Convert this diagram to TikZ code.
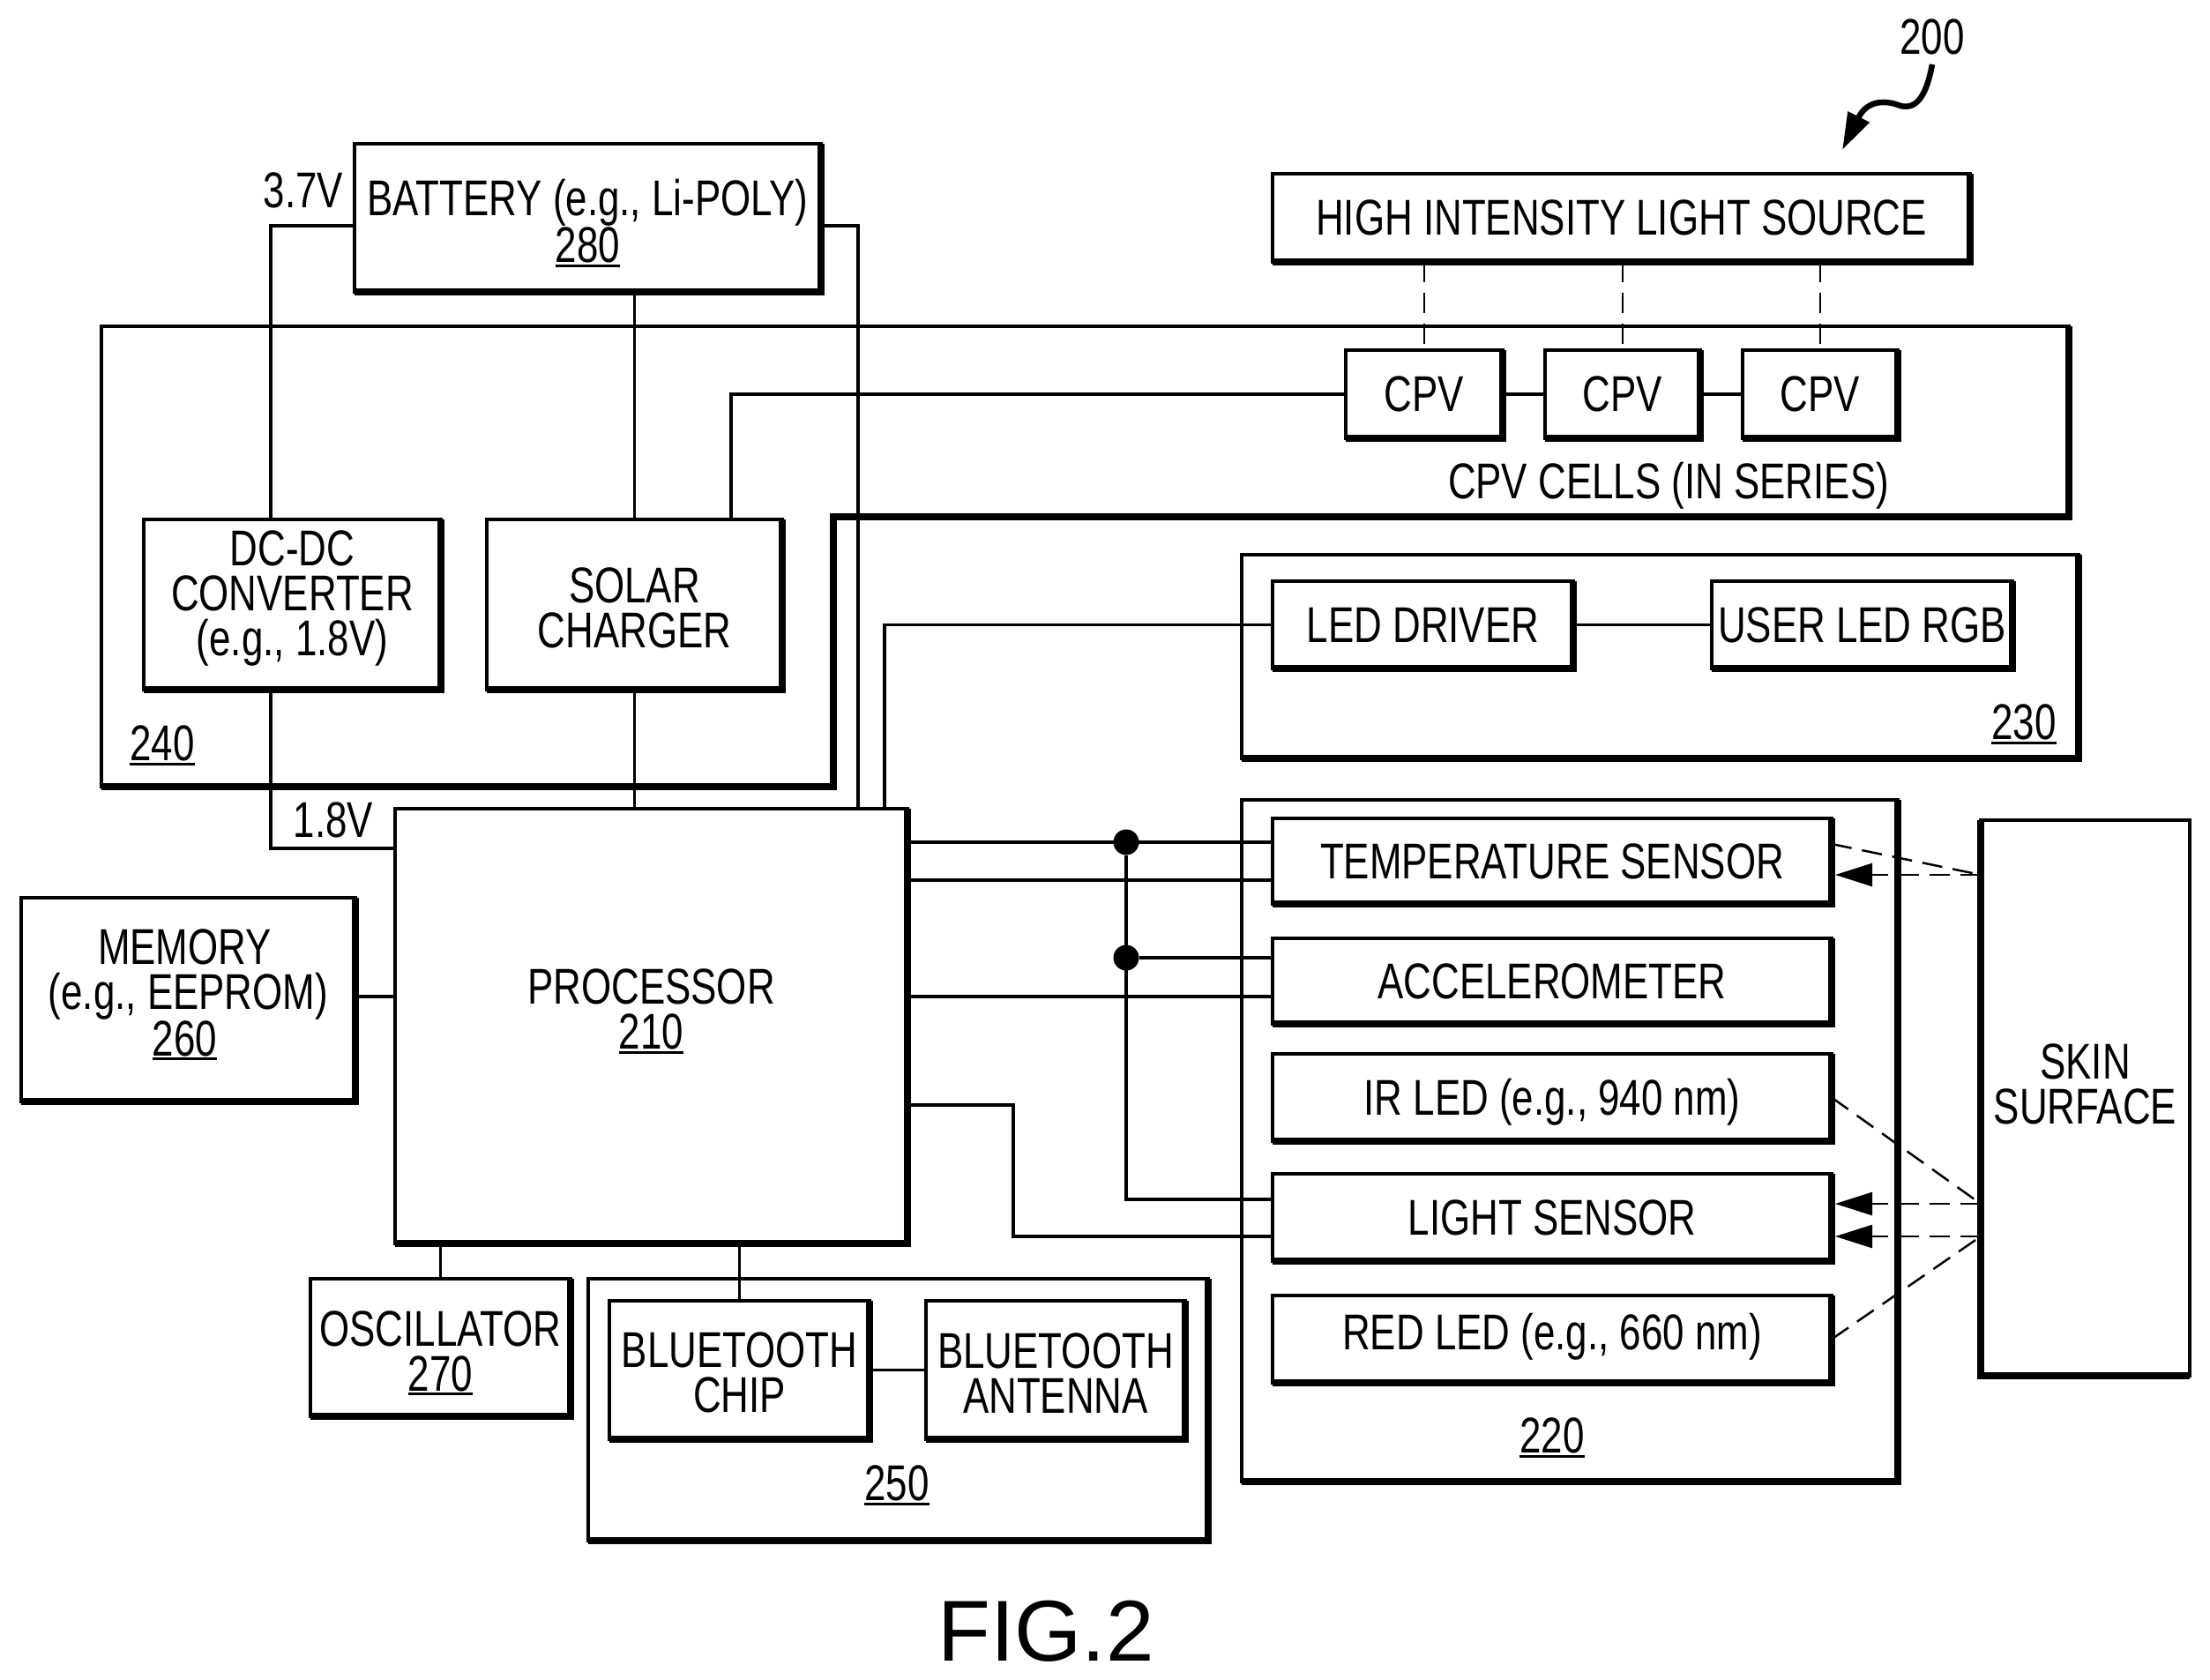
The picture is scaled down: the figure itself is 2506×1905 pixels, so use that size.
\documentclass[tikz,border=0pt]{standalone}
\usepackage{fontspec}
\usetikzlibrary{arrows.meta}
\setmainfont{Liberation Sans}
\newfontfamily\narrowfont[FakeStretch=0.77]{Liberation Sans}
\newcommand{\refnum}[1]{\setbox0\hbox{#1}\rlap{\smash{\rule[-5pt]{\wd0}{3pt}}}#1}
\newcommand{\pushup}[1]{\rule[-#1]{0pt}{#1}}
\newcommand{\pushdown}[1]{\rule{0pt}{#1}}
\newcommand{\padr}{\hspace*{8pt}}
\tikzset{
  lettering/.style={
      inner sep=0pt,
      align=center,
      font=\narrowfont\fontsize{57}{51}\selectfont
  },
  block/.style={
      lettering,
      rectangle,
      draw,
      line width=4pt,
      outer sep=0pt,
      fill=white
  },
  group/.style={block,fill=none},
  boxsize/.style 2 args={minimum width=#1pt,minimum height=#2pt},
  heavy/.style={line width=8pt,line cap=square},
  conn/.style={line width=3.5pt},
  beam/.style={line width=2.5pt,dash pattern=on 23pt off 12pt},
  lit/.style={beam,shorten >=4pt,-{Triangle[length=42pt,width=26pt]}},
  junction/.style={circle,fill,inner sep=0pt,minimum size=29pt}
}

\begin{document}
\begin{tikzpicture}[x=1pt,y=-1pt]
    \useasboundingbox (0,0) rectangle (2506,1905);
    % group outlines
    \node[group,boxsize={703}{297}] (group250) at (1018.5,1598.5) {};
    \node[group,boxsize={744}{773}] (group220) at (1780,1293.5) {};
    \node[group,boxsize={949}{231}] (group230) at (1882.5,744.5) {};
    \draw[line width=4pt] (115,370) -- (2346,370) -- (2346,586) -- (945,586) -- (945,892) -- (115,892) -- cycle;
    \draw[heavy] (2346,370) -- (2346,586) -- (945,586) -- (945,892) -- (115,892);
    % blocks
    \node[block,boxsize={529}{168}] (battery) at (666.5,247) {\pushdown{49pt}BATTERY (e.g., Li-POLY)\\\refnum{280}};
    \node[block,boxsize={337}{193}] (dcdc) at (331.5,685.5) {DC-DC\\CONVERTER\\(e.g., 1.8V)\pushup{26pt}};
    \node[block,boxsize={335}{193}] (solar) at (719.5,685.5) {\pushdown{48pt}SOLAR\\CHARGER};
    \node[block,boxsize={581}{493}] (processor) at (738.5,1163.5) {PROCESSOR\\\refnum{210}\pushup{38pt}};
    \node[block,boxsize={379}{231}] (memory) at (213.5,1133.5) {MEMORY\padr\\(e.g., EEPROM)\padr\\\refnum{260}\padr\pushup{16pt}};
    \node[block,boxsize={295}{156}] (oscillator) at (499.5,1528) {\pushdown{48pt}OSCILLATOR\\\refnum{270}};
    \node[block,boxsize={295}{157}] (btchip) at (838.5,1553.5) {\pushdown{46pt}BLUETOOTH\\CHIP};
    \node[block,boxsize={294}{157}] (btantenna) at (1197,1553.5) {\pushdown{46pt}BLUETOOTH\\ANTENNA};
    \node[block,boxsize={341}{99}] (leddriver) at (1613.5,708.5) {LED DRIVER};
    \node[block,boxsize={341}{99}] (userled) at (2111.5,708.5) {USER LED RGB};
    \node[block,boxsize={634}{97}] (tempsensor) at (1760,976.5) {TEMPERATURE SENSOR};
    \node[block,boxsize={634}{97}] (accel) at (1760,1112.5) {ACCELEROMETER};
    \node[block,boxsize={634}{99}] (irled) at (1760,1244.5) {\pushdown{51pt}IR LED (e.g., 940 nm)};
    \node[block,boxsize={634}{99}] (lightsensor) at (1760,1380.5) {LIGHT SENSOR};
    \node[block,boxsize={634}{99}] (redled) at (1760,1518.5) {RED LED (e.g., 660 nm)\pushup{18pt}};
    \node[block,boxsize={237}{630}] (skin) at (2364.5,1245) {SKIN\\SURFACE\pushup{32pt}};
    \node[block,boxsize={791}{100}] (lightsource) at (1838.5,247) {HIGH INTENSITY LIGHT SOURCE};
    \node[block,boxsize={178}{100}] (cpva) at (1615,447) {CPV};
    \node[block,boxsize={176}{100}] (cpvb) at (1840,447) {CPV};
    \node[block,boxsize={176}{100}] (cpvc) at (2064,447) {CPV};
    \foreach \n in {group250,group220,group230,battery,dcdc,solar,processor,memory,oscillator,btchip,btantenna,
                    leddriver,userled,tempsensor,accel,irled,lightsensor,redled,lightsource,cpva,cpvb,cpvc}
      \draw[heavy] (\n.north east) -- (\n.south east) -- (\n.south west);
    \draw[heavy] (skin.north west) -- (skin.south west) -- (skin.south east);
    % texts
    \node[lettering] (volthigh) at (344,216) {3.7V};
    \node[lettering] (voltlow) at (378,930) {1.8V};
    \node[lettering] (num240) at (184,843) {\refnum{240}};
    \node[lettering] (num230) at (2295,819) {\refnum{230}};
    \node[lettering] (num220) at (1760,1628) {\refnum{220}};
    \node[lettering] (num250) at (1017,1682) {\refnum{250}};
    \node[lettering] (num200) at (2191,42) {200};
    \node[lettering] (cpvcells) at (1892,551) {CPV CELLS (IN SERIES)};
    \node[inner sep=0pt,font=\fontsize{98}{98}\selectfont] (figlabel) at (1186,1850) {FIG.2};
    % power
    \draw[conn] (battery.west |- 0,256) -| (dcdc.north -| 307,0);
    \draw[conn] (dcdc.south -| 307,0) |- (processor.west |- 0,962);
    \draw[conn] (battery.east |- 0,256) -| (processor.north -| 973,0);
    \draw[conn] (battery.south -| solar.north) -- (solar.north);
    \draw[conn] (solar.south) -- (processor.north -| solar.south);
    \draw[conn] (solar.north -| 829,0) |- (cpva.west);
    \draw[conn] (cpva.east) -- (cpvb.west);
    \draw[conn] (cpvb.east) -- (cpvc.west);
    \draw[beam] (lightsource.south -| cpva.north) -- (cpva.north);
    \draw[beam] (lightsource.south -| cpvb.north) -- (cpvb.north);
    \draw[beam] (lightsource.south -| cpvc.north) -- (cpvc.north);
    % processor links
    \draw[conn] (leddriver.west) -| (processor.north -| 1003,0);
    \draw[conn] (leddriver.east) -- (userled.west);
    \draw[conn] (memory.east |- 0,1130) -- (processor.west |- 0,1130);
    \draw[conn] (oscillator.north) -- (processor.south -| oscillator.north);
    \draw[conn] (btchip.north) -- (processor.south -| btchip.north);
    \draw[conn] (btchip.east) -- (btantenna.west);
    \draw[conn] (processor.east |- 0,955) -- (tempsensor.west |- 0,955);
    \draw[conn] (processor.east |- 0,998) -- (tempsensor.west |- 0,998);
    \draw[conn] (processor.east |- 0,1130) -- (accel.west |- 0,1130);
    \draw[conn] (processor.east |- 0,1253) -| (1149,1402) -- (lightsensor.west |- 0,1402);
    \node[junction] (dota) at (1277,955) {};
    \node[junction] (dotb) at (1277,1086) {};
    \draw[conn] (dota) |- (lightsensor.west |- 0,1360);
    \draw[conn] (dotb) -- (accel.west |- dotb);
    % light paths
    \draw[beam] (tempsensor.east |- 0,957) -- (skin.west |- 0,992);
    \draw[lit] (skin.west |- 0,992) -- (tempsensor.east |- 0,992);
    \draw[beam] (irled.east) -- (skin.west |- 0,1365);
    \draw[lit] (skin.west |- 0,1365) -- (lightsensor.east |- 0,1365);
    \draw[lit] (skin.west |- 0,1402) -- (lightsensor.east |- 0,1402);
    \draw[beam] (redled.east) -- (skin.west |- 0,1402);
    % reference arrow
    \coordinate (squigstart) at (2191,73);
    \coordinate (squigend) at (2089,170);
    \draw[line width=6.5pt,-{Triangle[length=42pt,width=26pt]}] (squigstart) .. controls (2185,105) and (2175,125) .. (2155,120)
      .. controls (2140,114) and (2118,112) .. (squigend);
\end{tikzpicture}
\end{document}
